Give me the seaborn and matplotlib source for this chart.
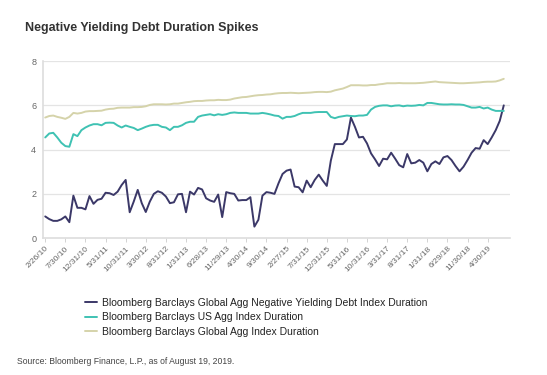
import pandas as pd
import seaborn as sns
import matplotlib.pyplot as plt
import matplotlib as m

# monthly series, Feb 2010 .. Aug 2019
neg_yield = [0.98, 0.86, 0.78, 0.78, 0.85, 0.98, 0.72, 1.92, 1.37, 1.37,
             1.30, 1.90, 1.55, 1.73, 1.78, 2.05, 2.03, 1.95, 2.10, 2.40,
             2.63, 1.17, 1.65, 2.18, 1.58, 1.18, 1.65, 2.00, 2.12, 2.05,
             1.88, 1.58, 1.62, 1.98, 2.00, 1.17, 2.10, 1.97, 2.27, 2.20,
             1.80, 1.70, 1.64, 1.97, 0.95, 2.08, 2.03, 2.00, 1.70, 1.72,
             1.72, 1.85, 0.52, 0.83, 1.92, 2.08, 2.05, 2.00, 2.48, 2.90,
             3.05, 3.10, 2.33, 2.30, 2.07, 2.60, 2.30, 2.63, 2.87, 2.60,
             2.36, 3.50, 4.25, 4.25, 4.25, 4.46, 5.45, 5.03, 4.55, 4.58,
             4.28, 3.83, 3.56, 3.26, 3.59, 3.56, 3.86, 3.59, 3.30, 3.20,
             3.80, 3.38, 3.41, 3.53, 3.41, 3.02, 3.35, 3.47, 3.35, 3.65,
             3.71, 3.53, 3.26, 3.02, 3.23, 3.53, 3.86, 4.07, 4.04, 4.43,
             4.25, 4.55, 4.88, 5.30, 6.00]
us_agg = [4.55, 4.73, 4.76, 4.55, 4.31, 4.16, 4.13, 4.70, 4.61, 4.88,
          5.00, 5.09, 5.15, 5.15, 5.10, 5.21, 5.22, 5.21, 5.09, 5.00,
          5.09, 5.03, 4.98, 4.88, 4.95, 5.03, 5.09, 5.12, 5.12, 5.03,
          5.00, 4.88, 5.03, 5.03, 5.10, 5.21, 5.26, 5.26, 5.48, 5.54,
          5.57, 5.60, 5.55, 5.60, 5.57, 5.60, 5.66, 5.68, 5.66, 5.66,
          5.66, 5.63, 5.63, 5.63, 5.66, 5.63, 5.59, 5.54, 5.52, 5.40,
          5.48, 5.48, 5.52, 5.60, 5.66, 5.66, 5.66, 5.69, 5.70, 5.70,
          5.70, 5.48, 5.42, 5.48, 5.51, 5.54, 5.52, 5.51, 5.54, 5.54,
          5.57, 5.81, 5.93, 5.98, 6.00, 6.00, 5.96, 5.99, 6.00, 5.96,
          5.99, 5.98, 5.99, 6.02, 6.00, 6.11, 6.11, 6.08, 6.05, 6.04,
          6.04, 6.05, 6.04, 6.04, 6.02, 5.96, 5.90, 5.90, 5.93, 5.86,
          5.90, 5.81, 5.75, 5.75, 5.75]
global_agg = [5.45, 5.52, 5.54, 5.48, 5.44, 5.39, 5.48, 5.66, 5.63, 5.66,
              5.72, 5.74, 5.74, 5.75, 5.76, 5.81, 5.84, 5.85, 5.89, 5.90,
              5.90, 5.90, 5.92, 5.92, 5.93, 5.96, 6.02, 6.05, 6.05, 6.05,
              6.04, 6.05, 6.08, 6.08, 6.11, 6.14, 6.16, 6.19, 6.20, 6.20,
              6.22, 6.23, 6.23, 6.25, 6.24, 6.24, 6.26, 6.31, 6.34, 6.37,
              6.38, 6.41, 6.44, 6.46, 6.47, 6.49, 6.50, 6.53, 6.55, 6.56,
              6.56, 6.57, 6.56, 6.55, 6.56, 6.57, 6.58, 6.60, 6.61, 6.61,
              6.60, 6.62, 6.68, 6.72, 6.76, 6.83, 6.91, 6.91, 6.91, 6.90,
              6.90, 6.92, 6.92, 6.95, 6.97, 7.00, 7.00, 7.00, 7.01, 7.00,
              7.00, 7.00, 7.00, 7.01, 7.02, 7.04, 7.06, 7.08, 7.05, 7.04,
              7.03, 7.02, 7.01, 7.00, 7.00, 7.01, 7.02, 7.03, 7.04, 7.06,
              7.07, 7.07, 7.08, 7.13, 7.20]
tick_labels = ["2/26/10", "7/30/10", "12/31/10", "5/31/11", "10/31/11", "3/30/12",
               "8/31/12", "1/31/13", "6/28/13", "11/29/13", "4/30/14", "9/30/14",
               "2/27/15", "7/31/15", "12/31/15", "5/31/16", "10/31/16", "3/31/17",
               "8/31/17", "1/31/18", "6/29/18", "11/30/18", "4/30/19"]
names = ["Bloomberg Barclays Global Agg Negative Yielding Debt Index Duration",
         "Bloomberg Barclays US Agg Index Duration",
         "Bloomberg Barclays Global Agg Index Duration"]
colors = ["#3b3868", "#3fc2b3", "#d5d3aa"]

plot_data = pd.DataFrame()
for n, vals in zip(names, [neg_yield, us_agg, global_agg]):
    tmp = pd.DataFrame({'month': range(len(vals)), 'duration': vals, 'series': n})
    plot_data = pd.concat([plot_data, tmp], ignore_index=True)

sns.set_style("white")
plt.rcParams['font.family'] = ['Liberation Sans', 'DejaVu Sans']

fig = plt.figure(figsize=(5.47, 3.75), dpi=100)
ax = fig.add_axes([0.079, 0.365, 0.853, 0.472])
sns.lineplot(data=plot_data, x='month', y='duration', hue='series',
             palette=colors, linewidth=1.4, estimator=None, ax=ax)

ax.set_xlim(-0.5, 115.5)
ax.set_ylim(0, 8)
ax.set_yticks([0, 2, 4, 6, 8])
ax.yaxis.grid(True, color='#e4e4e4', linewidth=0.9)
ax.set_axisbelow(True)
ax.set_xticks(range(0, 5 * len(tick_labels), 5))
ax.set_xticklabels(tick_labels, rotation=45, ha='right', rotation_mode='anchor')
ax.tick_params(axis='x', bottom=True, length=3, width=0.6, color='#cccccc',
               labelsize=6, labelcolor='#666666', pad=2)
ax.tick_params(axis='y', length=0, labelsize=6.5, labelcolor='#666666', pad=5)
for s in ['top', 'right']:
    ax.spines[s].set_visible(False)
for s in ['left', 'bottom']:
    ax.spines[s].set_color('#dddddd')
    ax.spines[s].set_linewidth(1.2)
ax.set_xlabel("")
ax.set_ylabel("")

ax.get_legend().remove()
handles, labels = ax.get_legend_handles_labels()
leg = fig.legend(handles, labels, loc='upper left', bbox_to_anchor=(0.155, 0.205),
                 frameon=False, handlelength=1.2, handletextpad=0.5,
                 labelspacing=0.42, borderpad=0, borderaxespad=0,
                 prop={'size': 7.5})
for t in leg.get_texts():
    t.set_color('#222222')

fig.text(0.046, 0.925, "Negative Yielding Debt Duration Spikes",
         fontsize=9, fontweight='bold', color='#333333', va='center')
fig.text(0.031, 0.035, "Source: Bloomberg Finance, L.P., as of August 19, 2019.",
         fontsize=6.2, color='#444444', va='center')

plt.savefig("out.png", dpi=100)
